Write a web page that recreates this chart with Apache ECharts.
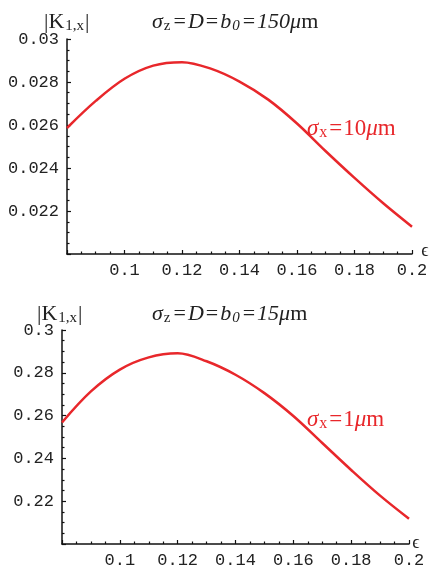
<!DOCTYPE html>
<html>
<head>
<meta charset="utf-8">
<script src="https://cdn.jsdelivr.net/npm/echarts@6/dist/echarts.min.js"></script>
<style>
  html, body { margin: 0; padding: 0; background: #fff; }
  #main { width: 433px; height: 574px; }
</style>
</head>
<body>
<div id="main"></div>
<script>
// |K1,x| 随 epsilon 变化的两条曲线

var eps = [0.08, 0.09, 0.10, 0.11, 0.12, 0.13, 0.14, 0.15, 0.16, 0.17, 0.18, 0.19, 0.20];
// sigma_x = 10um, sigma_z = D = b0 = 150um
var kTop = [0.02586, 0.02712, 0.02815, 0.02876, 0.02892, 0.02862, 0.02802, 0.02718, 0.02607, 0.02478, 0.02354, 0.02236, 0.02127];
// sigma_x = 1um, sigma_z = D = b0 = 15um
var kBottom = [0.2568, 0.2713, 0.2815, 0.2872, 0.2891, 0.2854, 0.2791, 0.2705, 0.2598, 0.2472, 0.2346, 0.2226, 0.2118];

var xTicks = { min: 0.08, max: 0.2, interval: 0.02 };
var yTopTicks = { min: 0.02, max: 0.03, interval: 0.002 };
var yBottomTicks = { min: 0.2, max: 0.3, interval: 0.02 };

var red = '#e8272b';
var serif = 'Liberation Serif';

function pairs(ys) {
    return eps.map(function (x, i) { return [x, ys[i]]; });
}

function fmt(min) {
    return function (v) {
        if (Math.abs(v - min) < 1e-9) return '';
        return String(+v.toFixed(4));
    };
}

function xAxis(idx) {
    return {
        type: 'value', gridIndex: idx,
        min: xTicks.min, max: xTicks.max, interval: xTicks.interval,
        axisLine: { show: true, onZero: false, lineStyle: { color: '#111', width: 1.5 } },
        axisTick: { show: true, inside: true, length: 4, lineStyle: { color: '#111', width: 1.2 } },
        minorTick: { show: true, splitNumber: 4, length: 2.5, lineStyle: { color: '#111', width: 1.2 } },
        splitLine: { show: false },
        axisLabel: { margin: 8, fontFamily: 'Liberation Mono', fontSize: 17, color: '#222', formatter: fmt(xTicks.min) }
    };
}

function yAxis(idx, t) {
    return {
        type: 'value', gridIndex: idx,
        min: t.min, max: t.max, interval: t.interval,
        axisLine: { show: true, onZero: false, lineStyle: { color: '#111', width: 1.5 } },
        axisTick: { show: true, inside: true, length: 4, lineStyle: { color: '#111', width: 1.2 } },
        minorTick: { show: true, splitNumber: 4, length: 2.5, lineStyle: { color: '#111', width: 1.2 } },
        splitLine: { show: false },
        axisLabel: { margin: 8, fontFamily: 'Liberation Mono', fontSize: 17, color: '#222', formatter: fmt(t.min) }
    };
}

// graphic 文本用 zrender 的 fill 属性
var rich = {
    n: { fontFamily: serif, fontSize: 22, fill: '#222' },
    e: { fontFamily: serif, fontSize: 22, fill: '#222', padding: [0, 2, 0, 2] },
    i: { fontFamily: serif, fontSize: 22, fontStyle: 'italic', fill: '#222' },
    s: { fontFamily: serif, fontSize: 15, fill: '#222', padding: [8, 1, 0, 1] },
    si: { fontFamily: serif, fontSize: 15, fontStyle: 'italic', fill: '#222', padding: [8, 1, 0, 1] },
    ep: { fontFamily: serif, fontSize: 18, fill: '#222' },
    rn: { fontFamily: serif, fontSize: 23, fill: red },
    re: { fontFamily: serif, fontSize: 23, fill: red, padding: [0, 1, 0, 1] },
    ri: { fontFamily: serif, fontSize: 23, fontStyle: 'italic', fill: red },
    rs: { fontFamily: serif, fontSize: 16, fill: red, padding: [8, 1, 0, 1] }
};

function label(x, y, text, align) {
    return {
        type: 'text', x: x, y: y,
        style: { text: text, rich: rich, align: align || 'left', verticalAlign: 'middle' }
    };
}

var myChart = echarts.init(document.getElementById('main'));

var option = {
    backgroundColor: '#fff',
    animation: false,
    grid: [
        { left: 67, top: 39, right: 21, bottom: 320, outerBoundsMode: 'none' },
        { left: 62, top: 330, right: 24, bottom: 30, outerBoundsMode: 'none' }
    ],
    xAxis: [xAxis(0), xAxis(1)],
    yAxis: [yAxis(0, yTopTicks), yAxis(1, yBottomTicks)],
    graphic: [
        label(44, 22, '{n|\u007CK}{s|1,x}{n|\u007C}'),
        label(152, 22, '{i|σ}{s|z}{e|=}{i|D}{e|=}{i|b}{si|0}{e|=}{i|150μ}{n|m}'),
        label(37, 314, '{n|\u007CK}{s|1,x}{n|\u007C}'),
        label(152, 314, '{i|σ}{s|z}{e|=}{i|D}{e|=}{i|b}{si|0}{e|=}{i|15μ}{n|m}'),
        label(307, 129, '{ri|σ}{rs|x}{re|=}{rn|10}{ri|μ}{rn|m}'),
        label(307, 420, '{ri|σ}{rs|x}{re|=}{rn|1}{ri|μ}{rn|m}'),
        label(425, 251, '{ep|ϵ}', 'center'),
        label(416, 543, '{ep|ϵ}', 'center')
    ],
    series: [
        {
            type: 'line', xAxisIndex: 0, yAxisIndex: 0,
            data: pairs(kTop), smooth: 0.35, showSymbol: false,
            lineStyle: { color: red, width: 2.5 }
        },
        {
            type: 'line', xAxisIndex: 1, yAxisIndex: 1,
            data: pairs(kBottom), smooth: 0.35, showSymbol: false,
            lineStyle: { color: red, width: 2.5 }
        }
    ]
};

myChart.setOption(option);
</script>
</body>
</html>
